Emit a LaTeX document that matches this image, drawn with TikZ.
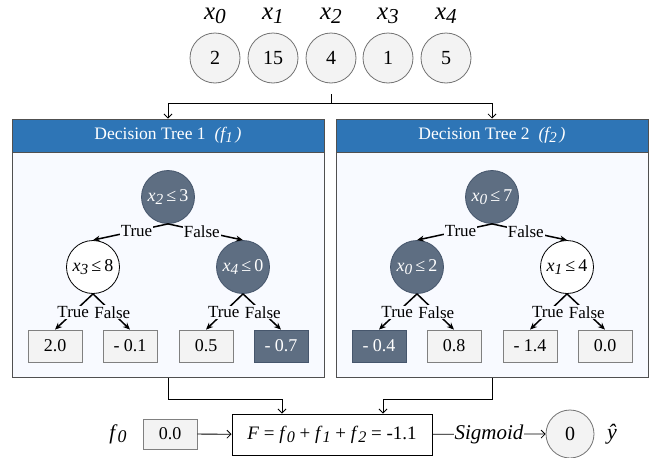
\documentclass[tikz,border=0pt]{standalone}
\usepackage{fontspec}
\setmainfont{Liberation Serif}
\usepackage{graphicx}
\usetikzlibrary{arrows.meta,calc}
\newcommand\isub[1]{\raisebox{-0.35ex}{\scalebox{0.85}{\textit{#1}}}}
\definecolor{darkn}{RGB}{94,110,130}
\definecolor{darkb}{RGB}{70,86,108}
\definecolor{hdrblue}{RGB}{46,117,182}
\definecolor{lightf}{RGB}{243,243,243}
\definecolor{lightb}{RGB}{128,128,128}
\definecolor{treebg}{RGB}{248,250,255}
\definecolor{treeb}{RGB}{80,80,80}
\begin{document}
\begin{tikzpicture}[x=1pt,y=-1pt,
  font=\fontsize{18}{21}\selectfont,
  inp/.style={circle,draw=lightb!90!black,fill=lightf,line width=0.8pt,minimum size=50pt,inner sep=0pt,font=\fontsize{20}{22}\selectfont},
  xlab/.style={font=\fontsize{25}{28}\selectfont,inner sep=0pt},
  treebox/.style={draw=treeb,fill=treebg,line width=1pt,minimum width=312pt,minimum height=258pt,inner sep=0pt},
  hdr/.style={draw=treeb,fill=hdrblue,line width=1pt,minimum width=312pt,minimum height=33pt,inner sep=0pt,text=white,font=\fontsize{17.5}{20}\selectfont},
  dnode/.style={circle,draw=darkb,fill=darkn,line width=0.8pt,minimum size=53pt,inner sep=0pt,text=white,font=\fontsize{18}{20}\selectfont},
  wnode/.style={circle,draw=black,fill=white,line width=0.8pt,minimum size=53pt,inner sep=0pt,font=\fontsize{18}{20}\selectfont},
  leaf/.style={draw=lightb,fill=lightf,line width=0.8pt,minimum width=54pt,minimum height=32pt,inner sep=0pt},
  dleaf/.style={draw=darkb,fill=darkn,line width=0.8pt,minimum width=54pt,minimum height=32pt,inner sep=0pt,text=white},
  tarrow/.style={line width=1.5pt,-{Stealth[length=7pt,width=6pt]}},
  elab/.style={fill=treebg,inner sep=1pt,font=\fontsize{17}{19}\selectfont},
  sarrow/.style={line width=0.8pt,-{Straight Barb[length=4pt,width=8pt]}},
  fbox/.style={draw=black,fill=white,line width=1pt,minimum width=200pt,minimum height=41pt,inner sep=0pt,font=\fontsize{19}{22}\selectfont},
  obox/.style={draw=lightb,fill=lightf,line width=0.8pt,minimum width=54pt,minimum height=30pt,inner sep=0pt},
  ocirc/.style={circle,draw=lightb!90!black,fill=lightf,line width=0.8pt,minimum size=48pt,inner sep=0pt,font=\fontsize{20}{22}\selectfont}
]
\useasboundingbox (0,0) rectangle (657,458);
\fill[white] (0,0) rectangle (657,458);

% inputs
\node[xlab] (l0) at (215,16) {\textit{x}\isub{0}};
\node[xlab] (l1) at (273,16) {\textit{x}\isub{1}};
\node[xlab] (l2) at (331,16) {\textit{x}\isub{2}};
\node[xlab] (l3) at (388,16) {\textit{x}\isub{3}};
\node[xlab] (l4) at (446,16) {\textit{x}\isub{4}};
\node[inp] (i0) at (215,58) {2};
\node[inp] (i1) at (273,58) {15};
\node[inp] (i2) at (331,58) {4};
\node[inp] (i3) at (388,58) {1};
\node[inp] (i4) at (446,58) {5};

% tree boxes
\node[treebox] (tb1) at (168,248) {};
\node[hdr] (h1) at (168,135.5) {Decision Tree 1\hspace{9pt}\textit{(f\isub{1}\,)}};
\node[treebox] (tb2) at (492,248) {};
\node[hdr] (h2) at (492,135.5) {Decision Tree 2\hspace{9pt}\textit{(f\isub{2}\,)}};

% top connectors
\coordinate (tap) at (331,94);
\coordinate (j) at (331,103);
\draw[line width=0.8pt] (tap) -- (j);
\draw[sarrow] (j) -| (h1.north);
\draw[sarrow] (j) -| (h2.north);

% tree 1
\node[dnode] (t1r) at (168,197) {\textit{x}\isub{2}\,≤\,3};
\node[wnode] (t1a) at (93,267) {\textit{x}\isub{3}\,≤\,8};
\node[dnode] (t1b) at (243,267) {\textit{x}\isub{4}\,≤\,0};
\node[leaf] (t1l1) at (55,346) {2.0};
\node[leaf] (t1l2) at (130,346) {- 0.1};
\node[leaf] (t1l3) at (206,346) {0.5};
\node[dleaf] (t1l4) at (281,346) {- 0.7};
\draw[tarrow] (t1r.south) -- node[elab,pos=.42]{True} (t1a.north);
\draw[tarrow] (t1r.south) -- node[elab,pos=.45]{False} (t1b.north);
\draw[tarrow] (t1a.south) -- node[elab,pos=.52]{True} (t1l1.north);
\draw[tarrow] (t1a.south) -- node[elab,pos=.52]{False} (t1l2.north);
\draw[tarrow] (t1b.south) -- node[elab,pos=.52]{True} (t1l3.north);
\draw[tarrow] (t1b.south) -- node[elab,pos=.52]{False} (t1l4.north);

% tree 2
\node[dnode] (t2r) at (492,197) {\textit{x}\isub{0}\,≤\,7};
\node[dnode] (t2a) at (417,267) {\textit{x}\isub{0}\,≤\,2};
\node[wnode] (t2b) at (567,267) {\textit{x}\isub{1}\,≤\,4};
\node[dleaf] (t2l1) at (379,346) {- 0.4};
\node[leaf] (t2l2) at (454,346) {0.8};
\node[leaf] (t2l3) at (530,346) {- 1.4};
\node[leaf] (t2l4) at (605,346) {0.0};
\draw[tarrow] (t2r.south) -- node[elab,pos=.42]{True} (t2a.north);
\draw[tarrow] (t2r.south) -- node[elab,pos=.45]{False} (t2b.north);
\draw[tarrow] (t2a.south) -- node[elab,pos=.52]{True} (t2l1.north);
\draw[tarrow] (t2a.south) -- node[elab,pos=.52]{False} (t2l2.north);
\draw[tarrow] (t2b.south) -- node[elab,pos=.52]{True} (t2l3.north);
\draw[tarrow] (t2b.south) -- node[elab,pos=.52]{False} (t2l4.north);

% bottom
\node[fbox] (F) at (332,434.5) {\textit{F} = \textit{f}\isub{0} + \textit{f}\isub{1} + \textit{f}\isub{2} = -1.1};
\node[inner sep=0pt,font=\fontsize{21}{24}\selectfont] (f0l) at (118,434) {\textit{f}\isub{0}};
\node[obox] (f0b) at (170,434) {0.0};
\node[ocirc] (out) at (570,434) {0};
\node[inner sep=0pt,font=\fontsize{22}{24}\selectfont] (yh) at (612,434) {\textit{ŷ}};
\draw[sarrow] (tb1.south) -- (168,399) -| ([xshift=-50pt]F.north);
\draw[sarrow] (tb2.south) -- (492,399) -| ([xshift=51pt]F.north);
\draw[sarrow] (f0b) -- (F);
\draw[sarrow] (F) -- node[fill=white,inner sep=1pt,font=\fontsize{21}{24}\selectfont]{\textit{Sigmoid}} (out);
\end{tikzpicture}
\end{document}
